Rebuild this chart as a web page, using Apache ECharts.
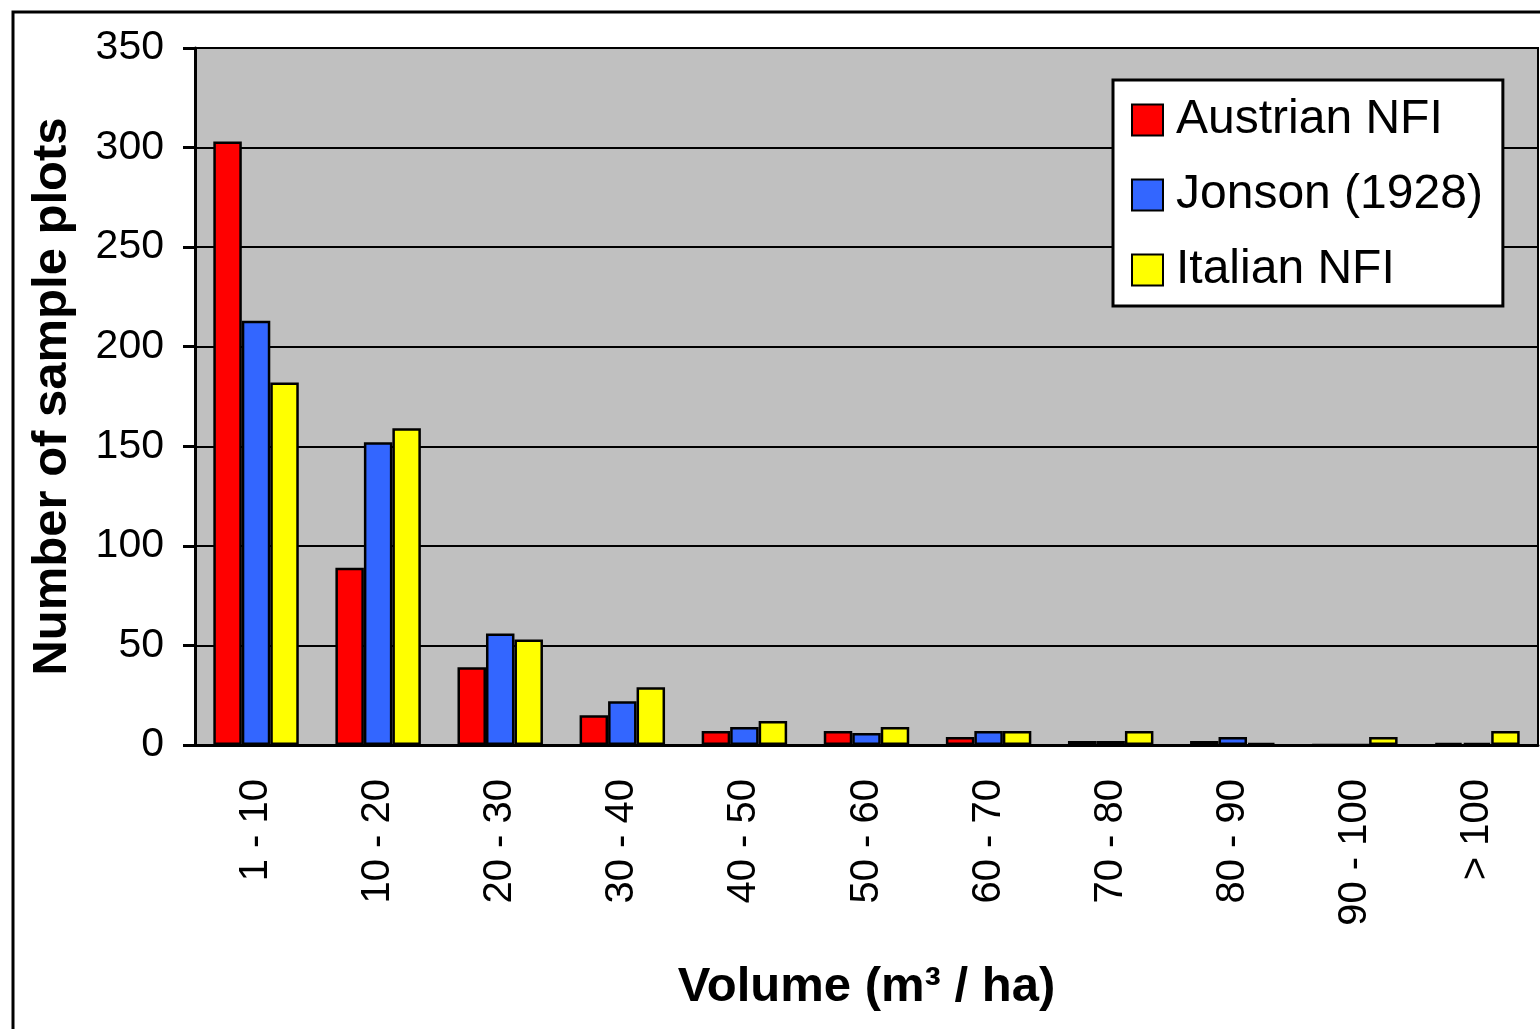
<!DOCTYPE html>
<html>
<head>
<meta charset="utf-8">
<script src="https://cdn.jsdelivr.net/npm/echarts@6/dist/echarts.min.js"></script>
<style>
html,body{margin:0;padding:0;background:#fff;}
#c{width:1540px;height:1029px;}
</style>
</head>
<body>
<div id="c"></div>
<script>
const categories = ['1 - 10','10 - 20','20 - 30','30 - 40','40 - 50','50 - 60','60 - 70','70 - 80','80 - 90','90 - 100','> 100'];
const austrianNFI = [303, 89, 39, 15, 7, 7, 4, 2, 2, 0, 1];
const jonson1928  = [213, 152, 56, 22, 9, 6, 7, 2, 4, 0, 1];
const italianNFI  = [182, 159, 53, 29, 12, 9, 7, 7, 1, 4, 7];
const yTicks = [0, 50, 100, 150, 200, 250, 300, 350];

const FONT = '"Liberation Sans", Arial, sans-serif';
const chart = echarts.init(document.getElementById('c'), null, {renderer: 'canvas'});
const barStyle = (c) => ({color: c, borderColor: '#000', borderWidth: 2.5});
chart.setOption({
  animation: false,
  backgroundColor: '#fff',
  graphic: [{
    type: 'rect', z: 100, silent: true,
    shape: {x: 13, y: 12, width: 1600, height: 1100},
    style: {fill: 'none', stroke: '#000', lineWidth: 3}
  }],
  grid: {
    left: 195, right: 2, top: 48, bottom: 284,
    outerBoundsMode: 'none', containLabel: false,
    show: true, backgroundColor: '#C0C0C0', borderColor: '#000', borderWidth: 2
  },
  legend: {
    orient: 'vertical', left: 1113, top: 80,
    backgroundColor: '#fff', borderColor: '#000', borderWidth: 3,
    padding: [16, 20, 12, 18],
    itemWidth: 31, itemHeight: 31, itemGap: 27,
    icon: 'rect',
    textStyle: {fontSize: 48, color: '#000', fontFamily: FONT, padding: [0, 0, 0, 8]},
    data: ['Austrian NFI', 'Jonson (1928)', 'Italian NFI']
  },
  xAxis: {
    type: 'category', data: categories,
    name: 'Volume (m³ / ha)', nameLocation: 'middle', nameGap: 218,
    nameTextStyle: {fontSize: 49, fontWeight: 'bold', color: '#000', fontFamily: FONT},
    axisLine: {lineStyle: {color: '#000', width: 3}},
    axisTick: {length: 12, lineStyle: {color: '#000', width: 3}},
    axisLabel: {rotate: 90, margin: 34, fontSize: 40, color: '#000', fontFamily: FONT, interval: 0},
    splitLine: {show: false}
  },
  yAxis: {
    type: 'value', min: 0, max: 350, interval: 50,
    name: 'Number of sample plots', nameLocation: 'middle', nameGap: 118, nameRotate: 90,
    nameTextStyle: {fontSize: 49, fontWeight: 'bold', color: '#000', fontFamily: FONT},
    axisLine: {show: true, lineStyle: {color: '#000', width: 3}},
    axisTick: {show: true, length: 12, lineStyle: {color: '#000', width: 3}},
    axisLabel: {margin: 31, fontSize: 41, color: '#000', fontFamily: FONT,
      formatter: (v) => yTicks.includes(v) ? String(v) : ''},
    splitLine: {lineStyle: {color: '#000', width: 2}}
  },
  series: [
    {name: 'Austrian NFI', type: 'bar', data: austrianNFI, barGap: '0%', barCategoryGap: '30%', itemStyle: barStyle('#FF0000')},
    {name: 'Jonson (1928)', type: 'bar', data: jonson1928, barGap: '0%', barCategoryGap: '30%', itemStyle: barStyle('#3366FF')},
    {name: 'Italian NFI', type: 'bar', data: italianNFI, barGap: '0%', barCategoryGap: '30%', itemStyle: barStyle('#FFFF00')}
  ]
});
</script>
</body>
</html>
